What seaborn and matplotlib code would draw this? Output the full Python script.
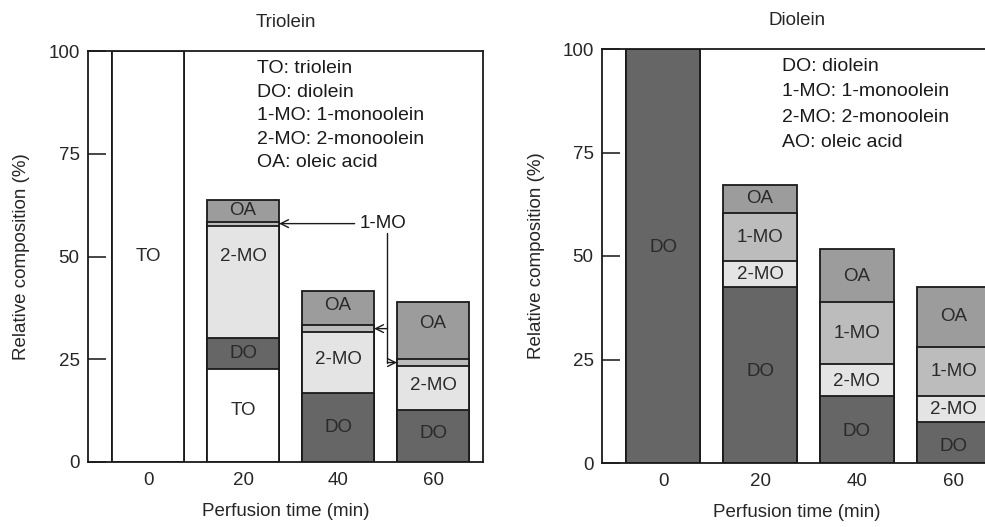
import numpy as np
import pandas as pd
import matplotlib
matplotlib.use('Agg')
import matplotlib.pyplot as plt
import seaborn as sns

# Zeiten (Kategorien)
times = ['0', '20', '40', '60']

# Triolein-Perfusion: Anteile pro Komponente (%)
tri_TO = [100, 22.7, 0, 0]
tri_DO = [0, 7.5, 16.8, 12.6]
tri_2MO = [0, 27.3, 14.8, 10.7]
tri_1MO = [0, 1.0, 1.7, 1.8]
tri_OA = [0, 5.3, 8.2, 13.8]

# Diolein-Perfusion
di_DO = [100, 42.4, 16.1, 9.8]
di_2MO = [0, 6.4, 7.7, 6.3]
di_1MO = [0, 11.7, 15.0, 11.8]
di_OA = [0, 6.7, 12.8, 14.5]

colors = {'TO': '#ffffff', 'DO': '#666666', '2-MO': '#e4e4e4',
          '1-MO': '#bcbcbc', 'OA': '#9c9c9c'}

sns.set_style('ticks')
plt.rcParams['font.family'] = ['Liberation Sans', 'DejaVu Sans']

fig = plt.figure(figsize=(9.85, 5.27), dpi=100)
ax1 = fig.add_axes([88 / 985, 1 - 462 / 527, 395 / 985, 411 / 527])
ax2 = fig.add_axes([602 / 985, 1 - 463 / 527, 390 / 985, 414 / 527])

W = 0.76
FS = 13.5


def stacked(ax, layers, labels_pos):
    # layers: Liste von (name, werte) von unten nach oben
    names = [n for n, _ in layers]
    vals = np.array([v for _, v in layers], dtype=float)
    cum = vals.cumsum(axis=0)
    # von oben nach unten zeichnen, damit die unteren Balken darüber liegen
    for i in range(len(layers) - 1, -1, -1):
        df = pd.DataFrame({'time': times, 'val': cum[i]})
        sns.barplot(data=df, x='time', y='val', order=times, color=colors[names[i]],
                    edgecolor='#1a1a1a', linewidth=1.3, width=W, saturation=1, ax=ax)
    for (name, j, y) in labels_pos:
        ax.text(j, y, name, ha='center', va='center', fontsize=FS, color='#2a2a2a')
    return cum


tri_layers = [('TO', tri_TO), ('DO', tri_DO), ('2-MO', tri_2MO), ('1-MO', tri_1MO), ('OA', tri_OA)]
tri_labels = [('TO', 0, 50), ('TO', 1, 12.6), ('DO', 1, 26.5), ('2-MO', 1, 50), ('OA', 1, 61.3),
              ('DO', 2, 8.5), ('2-MO', 2, 25), ('OA', 2, 38),
              ('DO', 3, 6.9), ('2-MO', 3, 18.7), ('OA', 3, 33.7)]
cum = stacked(ax1, tri_layers, tri_labels)

di_layers = [('DO', di_DO), ('2-MO', di_2MO), ('1-MO', di_1MO), ('OA', di_OA)]
di_labels = [('DO', 0, 52), ('DO', 1, 22), ('2-MO', 1, 45.6), ('1-MO', 1, 54.5), ('OA', 1, 63.8),
             ('DO', 2, 7.5), ('2-MO', 2, 19.8), ('1-MO', 2, 31.2), ('OA', 2, 45),
             ('DO', 3, 3.9), ('2-MO', 3, 13), ('1-MO', 3, 22.2), ('OA', 3, 35.3)]
stacked(ax2, di_layers, di_labels)

# Pfeile für 1-MO im Triolein-Panel
mid_1mo = (cum[2] + cum[3]) / 2
xv = 2.52
arrow = dict(arrowstyle='->', color='#1a1a1a', lw=1.0, mutation_scale=14, shrinkA=0, shrinkB=0)
ax1.annotate('1-MO', xy=(1 + W / 2, mid_1mo[1]), xytext=(2.47, mid_1mo[1]), ha='center', va='center',
             fontsize=FS, color='#1a1a1a',
             arrowprops=dict(arrowstyle='->', color='#1a1a1a', lw=1.0, mutation_scale=14,
                             shrinkA=1, shrinkB=0))
ax1.plot([xv, xv], [55.8, mid_1mo[3]], color='#1a1a1a', lw=1.0)
ax1.annotate('', xy=(2 + W / 2, mid_1mo[2]), xytext=(xv, mid_1mo[2]), arrowprops=arrow)
ax1.annotate('', xy=(3 - W / 2, mid_1mo[3]), xytext=(xv, mid_1mo[3]), arrowprops=arrow)

# Legenden-Texte
ax1.text(0.428, 0.978, 'TO: triolein\nDO: diolein\n1-MO: 1-monoolein\n2-MO: 2-monoolein\nOA: oleic acid',
         transform=ax1.transAxes, ha='left', va='top', fontsize=14, linespacing=1.5, color='#1a1a1a')
ax2.text(0.462, 0.978, 'DO: diolein\n1-MO: 1-monoolein\n2-MO: 2-monoolein\nAO: oleic acid',
         transform=ax2.transAxes, ha='left', va='top', fontsize=14, linespacing=1.64, color='#1a1a1a')

for ax, title, xlim in [(ax1, 'Triolein', (-0.632, 3.526)),
                        (ax2, 'Diolein', (-0.633, 3.395))]:
    ax.set_xlim(*xlim)
    ax.set_ylim(0, 100)
    ax.set_yticks([0, 25, 50, 75, 100])
    ax.set_xticklabels(times)
    ax.set_title(title, fontsize=FS, pad=17)
    ax.set_xlabel('Perfusion time (min)', fontsize=FS)
    ax.set_ylabel('Relative composition (%)', fontsize=FS)
    ax.yaxis.set_label_coords(-0.147, 0.5)
    ax.xaxis.set_label_coords(0.5, -0.1)
    ax.tick_params(axis='y', direction='in', length=13, width=1.2, labelsize=FS, pad=6)
    ax.tick_params(axis='x', length=0, labelsize=FS, pad=7)
    for s in ax.spines.values():
        s.set_visible(True)
        s.set_linewidth(1.3)
        s.set_color('#1a1a1a')

plt.savefig('out.png', dpi=100)
